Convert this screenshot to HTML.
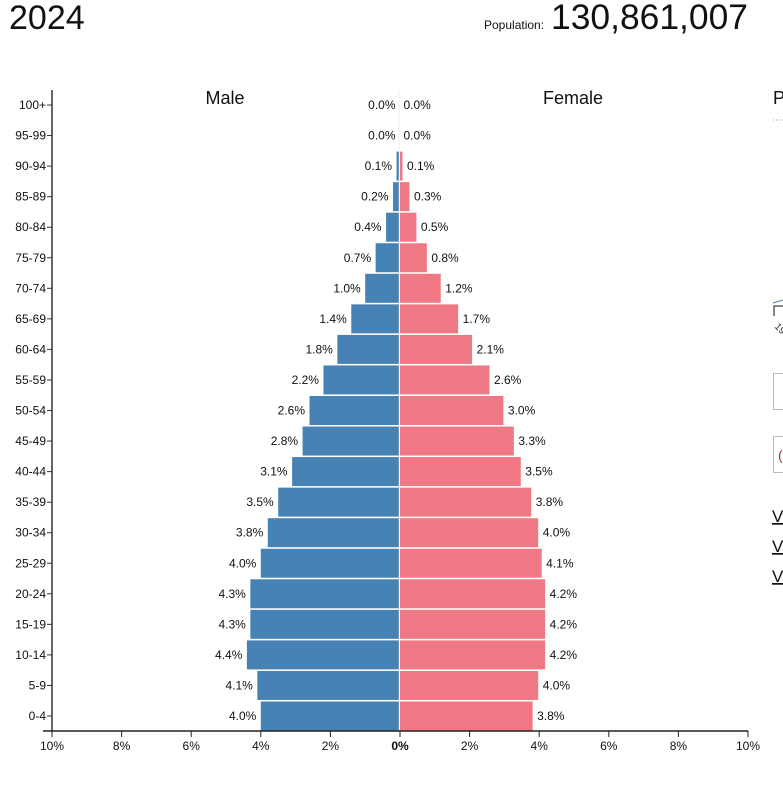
<!DOCTYPE html>
<html><head><meta charset="utf-8"><style>
body{margin:0;background:#fff;width:783px;height:785px;overflow:hidden;font-family:"Liberation Sans",Arial,sans-serif;}
svg{position:absolute;left:0;top:0}
</style></head><body>
<svg id="s" width="783" height="785" xmlns="http://www.w3.org/2000/svg" font-family="Liberation Sans, Arial, sans-serif">
<text x="9" y="29" font-size="34" fill="#111">2024</text>
<text x="484" y="29" font-size="12" fill="#111">Population:</text>
<text x="551" y="29" font-size="35" fill="#111" textLength="197" lengthAdjust="spacingAndGlyphs">130,861,007</text>
<text x="225" y="104" font-size="18" text-anchor="middle" fill="#111">Male</text>
<text x="573" y="104" font-size="18" text-anchor="middle" fill="#111">Female</text>
<text x="773" y="104" font-size="18" fill="#111">P</text>
<line x1="773" y1="120" x2="783" y2="120" stroke="#8aa6c8" stroke-dasharray="1,2"/>
<path d="M773 303 L783 300" stroke="#4682b4" fill="none"/>
<path d="M774 316 V306 H783" stroke="#111" fill="none"/>
<text x="774" y="327" font-size="10" fill="#333" transform="rotate(45 774 327)">19</text>
<rect x="773.5" y="373.5" width="20" height="36" fill="none" stroke="#bbb"/>
<rect x="773.5" y="436.5" width="20" height="36" fill="none" stroke="#bbb"/>
<text x="778" y="460" font-size="14" fill="#a33">(</text>
<text x="772" y="522" font-size="17" fill="#111" text-decoration="underline">V</text>
<text x="772" y="552" font-size="17" fill="#111" text-decoration="underline">V</text>
<text x="772" y="582" font-size="17" fill="#111" text-decoration="underline">V</text>
<g id="g"></g>
</svg>
<script>
var ages=["100+","95-99","90-94","85-89","80-84","75-79","70-74","65-69","60-64","55-59","50-54","45-49","40-44","35-39","30-34","25-29","20-24","15-19","10-14","5-9","0-4"];
var m=[0.0,0.0,0.1,0.2,0.4,0.7,1.0,1.4,1.8,2.2,2.6,2.8,3.1,3.5,3.8,4.0,4.3,4.3,4.4,4.1,4.0];
var f=[0.0,0.0,0.1,0.3,0.5,0.8,1.2,1.7,2.1,2.6,3.0,3.3,3.5,3.8,4.0,4.1,4.2,4.2,4.2,4.0,3.84];
var s="",cx=399.5,k=34.8;
for(var i=0;i<21;i++){
 var c=716-(20-i)*30.55, y=c-15, h=30;
 var wm=m[i]*k, wf=f[i]*k;
 s+='<rect x="'+(cx-wm)+'" y="'+y+'" width="'+wm+'" height="'+h+'" fill="#4682b4" stroke="#fff" stroke-width="1"/>';
 s+='<rect x="'+cx+'" y="'+y+'" width="'+wf+'" height="'+h+'" fill="#f07884" stroke="#fff" stroke-width="1"/>';
 s+='<text x="'+(cx-wm-4)+'" y="'+(c+4)+'" font-size="12" text-anchor="end" fill="#111">'+m[i].toFixed(1)+'%</text>';
 s+='<text x="'+(cx+wf+4)+'" y="'+(c+4)+'" font-size="12" fill="#111">'+(Math.floor(f[i]*10+0.5)/10).toFixed(1).replace("3.8","3.8")+'%</text>';
 s+='<text x="46" y="'+(c+4)+'" font-size="12" text-anchor="end" fill="#111">'+ages[i]+'</text>';
 s+='<line x1="47" x2="52" y1="'+c+'" y2="'+c+'" stroke="#333"/>';
}
s+='<line x1="52" y1="90" x2="52" y2="731" stroke="#333" stroke-width="1.5"/>';
s+='<line x1="399" y1="90" x2="399" y2="731" stroke="#ddd" stroke-width="0.5"/>';
s+='<line x1="43" y1="731" x2="748" y2="731" stroke="#222" stroke-width="1.5"/>';
var lab=["10%","8%","6%","4%","2%","0%","2%","4%","6%","8%","10%"];
for(var j=0;j<11;j++){var x=52+j*69.6;
 s+='<line x1="'+x+'" x2="'+x+'" y1="731" y2="737" stroke="#222"/>';
 s+='<text x="'+x+'" y="750" font-size="12" text-anchor="middle" fill="#111"'+(j==5?' font-weight="bold"':'')+'>'+lab[j]+'</text>';}
document.getElementById("g").innerHTML=s;
</script>
</body></html>
